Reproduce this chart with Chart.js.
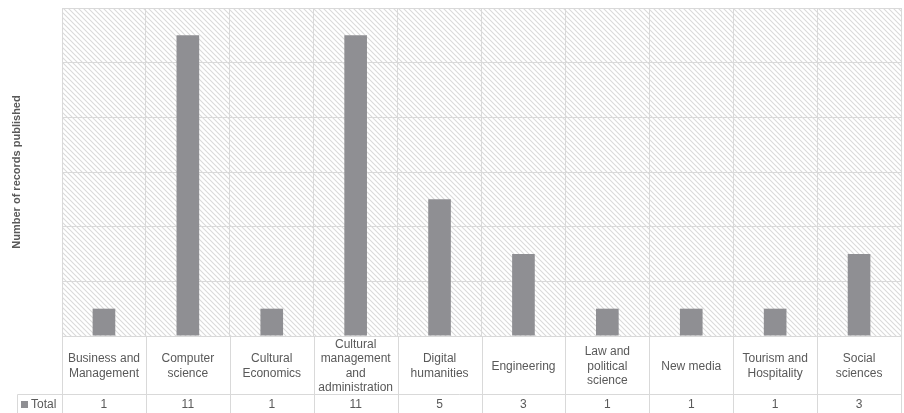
<!DOCTYPE html>
<html>
<head>
<meta charset="utf-8">
<script src="https://cdn.jsdelivr.net/npm/chart.js@4.4.1/dist/chart.umd.min.js"></script>
<style>
  html, body { margin: 0; padding: 0; background: #fff; }
  #wrap { width: 904px; height: 413px; }
</style>
</head>
<body>
<div id="wrap"><canvas id="chart"></canvas></div>
<script>
// categories, already wrapped the way the table shows them
const categories = [
  ['Business and', 'Management'],
  ['Computer', 'science'],
  ['Cultural', 'Economics'],
  ['Cultural', 'management', 'and', 'administration'],
  ['Digital', 'humanities'],
  ['Engineering'],
  ['Law and', 'political', 'science'],
  ['New media'],
  ['Tourism and', 'Hospitality'],
  ['Social', 'sciences']
]
const totals = [1, 11, 1, 11, 5, 3, 1, 1, 1, 3]
const seriesName = 'Total'
const yTitle = 'Number of records published'

const grey = '#d9d9d9'
const textColor = '#595959'
const barColor = '#8f8f93'
const font = '"Liberation Sans", Arial, sans-serif'

// diagonal hatch used behind the plot
function hatch() {
  const c = document.createElement('canvas')
  c.width = 5; c.height = 5
  const g = c.getContext('2d')
  g.strokeStyle = '#dadada'
  g.lineWidth = 1.1
  g.beginPath()
  g.moveTo(-1, -1); g.lineTo(6, 6)
  g.moveTo(-1, 4); g.lineTo(1, 6)
  g.moveTo(4, -1); g.lineTo(6, 1)
  g.stroke()
  return g.createPattern(c, 'repeat')
}

const tablePlugin = {
  id: 'table',
  beforeDraw(chart) {
    const { ctx, chartArea: a } = chart
    ctx.save()
    ctx.fillStyle = hatch()
    ctx.fillRect(a.left, a.top, a.right - a.left, a.bottom - a.top)
    ctx.restore()
  },
  afterDraw(chart) {
    const { ctx, chartArea: a } = chart
    const x = chart.scales.x
    const bottom = chart.height
    const rowTop = 394.5
    const w = (a.right - a.left) / categories.length
    ctx.save()
    ctx.strokeStyle = grey
    ctx.lineWidth = 1
    ctx.beginPath()
    for (let i = 0; i <= categories.length; i++) {
      const px = Math.round(a.left + i * w) + 0.5
      ctx.moveTo(px, a.bottom); ctx.lineTo(px, bottom)
    }
    ctx.moveTo(17.5, rowTop); ctx.lineTo(a.right, rowTop)
    ctx.moveTo(17.5, rowTop); ctx.lineTo(17.5, bottom)
    ctx.stroke()

    ctx.fillStyle = textColor
    ctx.font = '12px ' + font
    ctx.textAlign = 'center'
    ctx.textBaseline = 'middle'
    const lh = 14.3
    const mid = (a.bottom + rowTop) / 2 + 1
    categories.forEach((lines, i) => {
      const cx = x.getPixelForValue(i)
      const y0 = mid - (lines.length - 1) * lh / 2
      lines.forEach((t, j) => ctx.fillText(t, cx, y0 + j * lh))
      ctx.fillText(String(totals[i]), cx, 404.5)
    })
    ctx.textAlign = 'left'
    ctx.fillText(seriesName, 31, 404.5)
    ctx.fillStyle = barColor
    ctx.fillRect(21, 401, 7, 7)
    ctx.restore()
  }
}

new Chart(document.getElementById('chart'), {
  type: 'bar',
  data: {
    labels: categories,
    datasets: [{
      label: seriesName,
      data: totals,
      backgroundColor: barColor,
      barPercentage: 0.27,
      categoryPercentage: 1
    }]
  },
  options: {
    responsive: true,
    maintainAspectRatio: false,
    animation: false,
    layout: { padding: { left: 0, top: 8, right: 3, bottom: 0 } },
    plugins: { legend: { display: false }, tooltip: { enabled: false } },
    scales: {
      x: {
        offset: true,
        ticks: { display: false },
        grid: { color: grey, offset: true, drawTicks: false },
        border: { color: grey },
        afterFit(s) { s.height = 77 }
      },
      y: {
        min: 0, max: 12,
        ticks: { display: false, stepSize: 2 },
        grid: { color: grey, drawTicks: false },
        border: { color: grey },
        title: {
          display: true, text: yTitle, color: textColor,
          font: { family: font, size: 11, weight: 'bold' },
          padding: { top: 10 }
        },
        afterFit(s) { s.width = 62 }
      }
    }
  },
  plugins: [tablePlugin]
})
</script>
</body>
</html>
